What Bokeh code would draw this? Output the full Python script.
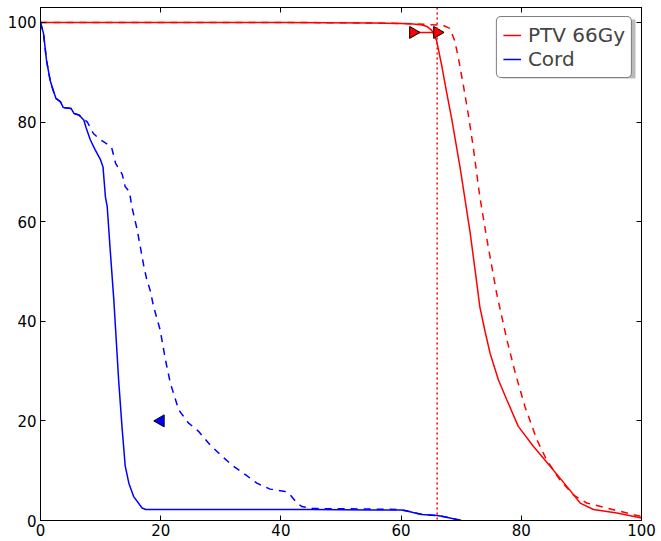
import math
from bokeh.plotting import figure
from bokeh.models import (Range1d, LinearAxis, Span, Legend, LegendItem, FixedTicker,
                          CustomJSTickFormatter, BoxAnnotation)
from bokeh.embed import file_html
from bokeh.resources import INLINE

# ---- data (dose in Gy / % , volume in %) ----
ptv_dose = [0, 20, 40, 55, 60, 62, 63.5, 64.3, 65.1, 65.9, 66.8, 67.6, 68.4, 69.8, 71.5,
            72.6, 73.1, 74.0, 74.8, 76.2, 77.6, 79.5, 82.0, 84.8, 87.6, 89.8, 92.0, 95.9, 100]
ptv_vol = [100, 100, 100, 99.9, 99.8, 99.7, 99.5, 99.2, 98.4, 96.4, 91.1, 85.8, 80.8, 71, 57.7,
           47.6, 42.9, 37.8, 33.6, 28.2, 24.2, 18.9, 14.9, 10.9, 6.8, 3.5, 2.2, 1.5, 0.5]

ptv_plan_dose = [0, 20, 40, 55, 60, 64.3, 67, 68.1, 68.9, 69.5, 70.4, 71.2, 72.0, 73.1, 74.3,
                 75.9, 77.6, 79.0, 80.6, 82.6, 84.2, 86.4, 88.6, 90.9, 94.2, 98.6, 100]
ptv_plan_vol = [100, 100, 100, 99.9, 99.8, 99.6, 99.4, 98.8, 96.4, 93.1, 87.1, 81.4, 75, 65, 56.3,
                45.6, 36.3, 29.6, 22.9, 16.2, 12.2, 8.2, 5.2, 3.5, 2.5, 1.2, 0.8]

cord_dose = [0, 0.5, 1, 1.6, 2.1, 2.6, 3.3, 3.8, 5.1, 5.6, 6.4, 7.2, 7.6, 8.3, 9.1, 10, 10.4,
             10.8, 11.1, 11.6, 12.2, 12.5, 13.0, 13.6, 14.1, 14.7, 15.5, 16.3, 16.9, 17.5, 30,
             45, 55, 60, 61, 62, 63.5, 66, 67, 70]
cord_vol = [100, 97.8, 92.4, 88.4, 86.4, 84.7, 84.1, 82.9, 82.7, 81.7, 81.4, 80.4, 78.8, 76.4,
            74.4, 72.4, 71, 65, 63, 54.3, 44.3, 38.3, 28.2, 18.2, 10.9, 7.5, 4.8, 3.5, 2.5, 2.2,
            2.2, 2.2, 2.1, 2.1, 1.9, 1.6, 1.2, 1.0, 0.8, 0]

cord_plan_dose = [0, 0.5, 1, 1.6, 2.1, 2.6, 3.3, 3.8, 5.1, 5.6, 6.4, 7.2, 7.8, 8.8, 9.7, 10.8,
                  11.6, 11.9, 12.5, 13.6, 14.1, 14.8, 15.2, 16.1, 16.6, 17.2, 17.7, 18.3, 18.8,
                  19.9, 20.8, 21.6, 23, 24.6, 26.3, 28.2, 30.2, 32.1, 34.1, 36, 38.2, 40.7, 41.5,
                  42.7, 43.5, 45.4, 55, 60, 61, 62, 63.5, 66, 67, 70]
cord_plan_vol = [100, 97.8, 92.4, 88.4, 86.4, 84.7, 84.1, 82.9, 82.7, 81.7, 81.4, 80.6, 80.0,
                 77.7, 76.7, 75.8, 75.2, 74.6, 71.7, 69.5, 67, 66, 63, 58.3, 55, 51, 48.3, 46,
                 43, 38.3, 32.2, 27.6, 22.2, 19.6, 17.9, 15.2, 12.9, 10.9, 9.2, 7.5, 6.3, 5.8,
                 5.2, 3.5, 2.8, 2.4, 2.3, 2.2, 1.9, 1.6, 1.2, 1.0, 0.8, 0]

ptv_marker_dose = [62, 66]
ptv_marker_vol = [98, 98]
cord_marker_dose = [20]
cord_marker_vol = [20]
prescription = 66

x_ticks = [0, 20, 40, 60, 80, 100]
y_ticks = [0, 20, 40, 60, 80, 100]

FONT = "DejaVu Sans"
RED = "#ff0000"
BLUE = "#0000ff"

p = figure(width=661, height=541, output_backend="svg", toolbar_location=None,
           x_range=Range1d(0, 100), y_range=Range1d(0, 103),
           min_border_left=40, min_border_right=20, min_border_top=7, min_border_bottom=21)
p.xgrid.visible = False
p.ygrid.visible = False
p.outline_line_color = "black"
p.outline_line_width = 1
p.background_fill_color = "white"
p.border_fill_color = "white"

bottom_axis = p.below[0]
left_axis = p.left[0]
top_axis = LinearAxis()
right_axis = LinearAxis()
p.add_layout(top_axis, "above")
p.add_layout(right_axis, "right")

for ax, ticks in [(bottom_axis, x_ticks), (left_axis, y_ticks), (top_axis, x_ticks), (right_axis, y_ticks)]:
    ax.ticker = FixedTicker(ticks=ticks)
    ax.major_tick_in = 5
    ax.major_tick_out = 0
    ax.minor_tick_line_color = None
    ax.axis_line_color = "black"
    ax.major_tick_line_color = "black"
    ax.major_label_text_font = FONT
    ax.major_label_text_font_size = "15px"
    ax.major_label_text_color = "black"

bottom_axis.major_label_standoff = 3
left_axis.major_label_standoff = 4
for ax in (top_axis, right_axis):
    ax.formatter = CustomJSTickFormatter(code="return '';")
    ax.major_label_standoff = 0

# DVH curves
r_ptv = p.line(ptv_dose, ptv_vol, line_color=RED, line_width=1.5)
p.line(ptv_plan_dose, ptv_plan_vol, line_color=RED, line_width=1.5, line_dash="7 6")
r_cord = p.line(cord_dose, cord_vol, line_color=BLUE, line_width=1.5)
p.line(cord_plan_dose, cord_plan_vol, line_color=BLUE, line_width=1.5, line_dash="7 6")

# prescription line
p.add_layout(Span(location=prescription, dimension="height", line_color=RED,
                  line_dash="2 3", line_width=1.5))

# markers
p.line(ptv_marker_dose, ptv_marker_vol, line_color=RED, line_width=1.5)
p.scatter(ptv_marker_dose, ptv_marker_vol, marker="triangle", size=12, angle=-math.pi / 2,
          fill_color=RED, line_color="black", line_width=1)
p.scatter(cord_marker_dose, cord_marker_vol, marker="triangle", size=12, angle=math.pi / 2,
          fill_color=BLUE, line_color="black", line_width=1)

# legend shadow (screen units relative to the frame, y upward)
shadow = BoxAnnotation(left=462, right=595, top=501, bottom=442,
                       left_units="screen", right_units="screen",
                       top_units="screen", bottom_units="screen",
                       fill_color="#777777", fill_alpha=0.5, line_color=None)
p.add_layout(shadow)

legend = Legend(items=[LegendItem(label="PTV 66Gy", renderers=[r_ptv]),
                       LegendItem(label="Cord", renderers=[r_cord])],
                location="top_right")
legend.label_text_font = FONT
legend.label_text_font_size = "20px"
legend.label_text_line_height = 1.0
legend.label_height = 20
legend.glyph_height = 20
legend.glyph_width = 18
legend.label_standoff = 7
legend.label_width = 96
legend.spacing = 0
legend.padding = 6
legend.margin = 9
legend.border_line_color = "black"
legend.border_line_width = 1.5
legend.background_fill_color = "white"
legend.background_fill_alpha = 1.0
if "border_radius" in Legend.properties():
    legend.border_radius = 5
p.add_layout(legend)

open("out.html", "w").write(file_html(p, INLINE))
